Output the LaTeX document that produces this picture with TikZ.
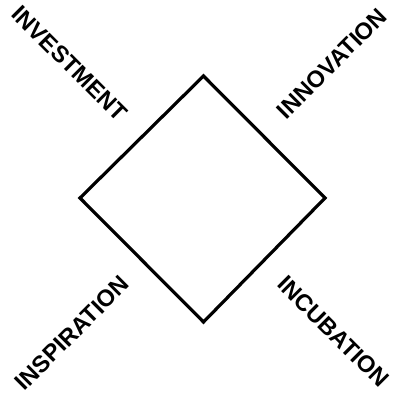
\documentclass[tikz,border=0pt]{standalone}
\usepackage{fontspec}
\setmainfont{Liberation Sans}
\begin{document}
\begin{tikzpicture}[x=1pt,y=1pt,
  lbl/.style={font=\fontsize{23.5}{23.5}\selectfont\bfseries, inner sep=0pt, anchor=center},
  edge/.style={line width=3.2pt, line join=miter}]
\useasboundingbox (0,0) rectangle (392,398);
\coordinate (T) at (203.5,322);
\coordinate (R) at (325,200);
\coordinate (B) at (203.5,76);
\coordinate (L) at (80,200);
\draw[edge] (T) -- (R) -- (B) -- (L) -- cycle;
\node[lbl, rotate=-45] (inv) at (69.5,334.5) {INVESTMENT};
\node[lbl, rotate=45] (inn) at (332,334.5) {INNOVATION};
\node[lbl, rotate=45] (ins) at (72,65) {INSPIRATION};
\node[lbl, rotate=-45] (inc) at (333.5,66.5) {INCUBATION};
\end{tikzpicture}
\end{document}
